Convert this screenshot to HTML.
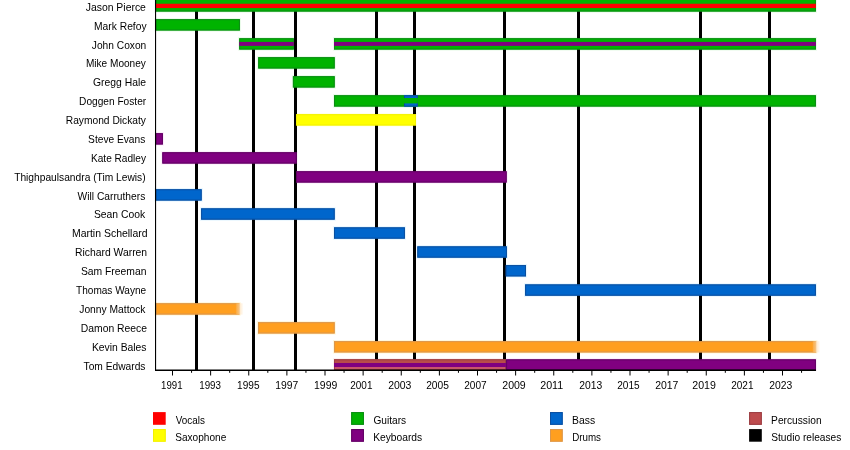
<!DOCTYPE html><html><head><meta charset="utf-8"><style>html,body{margin:0;padding:0;background:#fff;}svg{display:block;}text{will-change:transform;font-family:"Liberation Sans",Arial,sans-serif;font-size:11px;fill:#000;}</style></head><body>
<svg width="850" height="450" viewBox="0 0 850 450">
<rect width="850" height="450" fill="#fff"/>
<rect x="155.00" y="-0.50" width="661.40" height="12.55" fill="none" stroke="#EAFBEA" stroke-width="1.2"/>
<rect x="155.00" y="18.70" width="85.40" height="12.30" fill="none" stroke="#EAFBEA" stroke-width="1.2"/>
<rect x="238.70" y="37.75" width="55.60" height="12.30" fill="none" stroke="#EAFBEA" stroke-width="1.2"/>
<rect x="333.50" y="37.75" width="482.90" height="12.30" fill="none" stroke="#EAFBEA" stroke-width="1.2"/>
<rect x="257.70" y="56.70" width="77.50" height="12.30" fill="none" stroke="#EAFBEA" stroke-width="1.2"/>
<rect x="292.40" y="75.70" width="42.80" height="12.30" fill="none" stroke="#EAFBEA" stroke-width="1.2"/>
<rect x="333.50" y="94.75" width="482.90" height="12.30" fill="none" stroke="#EAFBEA" stroke-width="1.2"/>
<rect x="403.50" y="94.75" width="14.80" height="12.30" fill="none" stroke="#E6F6FF" stroke-width="1.2"/>
<rect x="295.50" y="113.70" width="121.00" height="12.30" fill="none" stroke="#FFFFE6" stroke-width="1.2"/>
<rect x="155.00" y="132.70" width="8.40" height="12.30" fill="none" stroke="#FBEEFB" stroke-width="1.2"/>
<rect x="161.80" y="151.75" width="135.40" height="12.30" fill="none" stroke="#FBEEFB" stroke-width="1.2"/>
<rect x="295.50" y="170.75" width="211.70" height="12.30" fill="none" stroke="#FBEEFB" stroke-width="1.2"/>
<rect x="155.00" y="188.75" width="47.20" height="12.30" fill="none" stroke="#E6F6FF" stroke-width="1.2"/>
<rect x="200.60" y="207.85" width="134.60" height="12.30" fill="none" stroke="#E6F6FF" stroke-width="1.2"/>
<rect x="333.50" y="226.85" width="71.90" height="12.30" fill="none" stroke="#E6F6FF" stroke-width="1.2"/>
<rect x="416.80" y="245.85" width="90.60" height="12.30" fill="none" stroke="#E6F6FF" stroke-width="1.2"/>
<rect x="505.20" y="264.60" width="21.30" height="12.30" fill="none" stroke="#E6F6FF" stroke-width="1.2"/>
<rect x="524.60" y="283.90" width="291.80" height="12.30" fill="none" stroke="#E6F6FF" stroke-width="1.2"/>
<rect x="155.00" y="302.75" width="85.10" height="12.30" fill="none" stroke="#FFF8DC" stroke-width="1.2"/>
<rect x="257.50" y="321.70" width="77.70" height="12.30" fill="none" stroke="#FFF8DC" stroke-width="1.2"/>
<rect x="333.50" y="340.65" width="483.30" height="12.30" fill="none" stroke="#FFF8DC" stroke-width="1.2"/>
<rect x="333.50" y="358.85" width="173.10" height="11.65" fill="none" stroke="#FCEFEF" stroke-width="1.2"/>
<rect x="505.60" y="358.85" width="310.80" height="11.65" fill="none" stroke="#FBEEFB" stroke-width="1.2"/>
<rect x="195.00" y="0" width="3" height="370" fill="#000"/>
<rect x="252.00" y="0" width="3" height="370" fill="#000"/>
<rect x="294.00" y="0" width="3" height="370" fill="#000"/>
<rect x="375.00" y="0" width="3" height="370" fill="#000"/>
<rect x="413.00" y="0" width="3" height="370" fill="#000"/>
<rect x="503.00" y="0" width="3" height="370" fill="#000"/>
<rect x="577.00" y="0" width="3" height="370" fill="#000"/>
<rect x="699.00" y="0" width="3" height="370" fill="#000"/>
<rect x="768.00" y="0" width="3" height="370" fill="#000"/>
<rect x="155.5" y="0.00" width="660.40" height="11.55" fill="#00B300"/>
<rect x="156.00" y="-2.50" width="659.40" height="13.55" fill="none" stroke="#0A8A14" stroke-width="1"/>
<rect x="155.5" y="3.75" width="660.40" height="4.30" fill="#FF0000"/>
<rect x="155.5" y="19.20" width="84.40" height="11.30" fill="#00B300"/>
<rect x="156.00" y="19.70" width="83.40" height="10.30" fill="none" stroke="#0A8A14" stroke-width="1"/>
<rect x="239.2" y="38.25" width="54.60" height="11.30" fill="#00B300"/>
<rect x="239.70" y="38.75" width="53.60" height="10.30" fill="none" stroke="#0A8A14" stroke-width="1"/>
<rect x="239.2" y="41.90" width="54.60" height="4.00" fill="#800080"/>
<rect x="334.0" y="38.25" width="481.90" height="11.30" fill="#00B300"/>
<rect x="334.50" y="38.75" width="480.90" height="10.30" fill="none" stroke="#0A8A14" stroke-width="1"/>
<rect x="334.0" y="41.90" width="481.90" height="4.00" fill="#800080"/>
<rect x="258.2" y="57.20" width="76.50" height="11.30" fill="#00B300"/>
<rect x="258.70" y="57.70" width="75.50" height="10.30" fill="none" stroke="#0A8A14" stroke-width="1"/>
<rect x="292.9" y="76.20" width="41.80" height="11.30" fill="#00B300"/>
<rect x="293.40" y="76.70" width="40.80" height="10.30" fill="none" stroke="#0A8A14" stroke-width="1"/>
<rect x="334.0" y="95.25" width="481.90" height="11.30" fill="#00B300"/>
<rect x="334.50" y="95.75" width="480.90" height="10.30" fill="none" stroke="#0A8A14" stroke-width="1"/>
<rect x="404.0" y="95.25" width="13.80" height="11.30" fill="#0066CC"/>
<rect x="404.50" y="95.75" width="12.80" height="10.30" fill="none" stroke="#0A4E9E" stroke-width="1"/>
<rect x="404.0" y="98.0" width="13.80" height="5.4" fill="#00B300"/>
<rect x="296.0" y="114.20" width="120.00" height="11.30" fill="#FFFF00"/>
<rect x="296.50" y="114.70" width="119.00" height="10.30" fill="none" stroke="#F2F000" stroke-width="1"/>
<rect x="155.5" y="133.20" width="7.40" height="11.30" fill="#800080"/>
<rect x="156.00" y="133.70" width="6.40" height="10.30" fill="none" stroke="#600062" stroke-width="1"/>
<rect x="162.3" y="152.25" width="134.40" height="11.30" fill="#800080"/>
<rect x="162.80" y="152.75" width="133.40" height="10.30" fill="none" stroke="#600062" stroke-width="1"/>
<rect x="296.0" y="171.25" width="210.70" height="11.30" fill="#800080"/>
<rect x="296.50" y="171.75" width="209.70" height="10.30" fill="none" stroke="#600062" stroke-width="1"/>
<rect x="155.5" y="189.25" width="46.20" height="11.30" fill="#0066CC"/>
<rect x="156.00" y="189.75" width="45.20" height="10.30" fill="none" stroke="#0A4E9E" stroke-width="1"/>
<rect x="201.1" y="208.35" width="133.60" height="11.30" fill="#0066CC"/>
<rect x="201.60" y="208.85" width="132.60" height="10.30" fill="none" stroke="#0A4E9E" stroke-width="1"/>
<rect x="334.0" y="227.35" width="70.90" height="11.30" fill="#0066CC"/>
<rect x="334.50" y="227.85" width="69.90" height="10.30" fill="none" stroke="#0A4E9E" stroke-width="1"/>
<rect x="417.3" y="246.35" width="89.60" height="11.30" fill="#0066CC"/>
<rect x="417.80" y="246.85" width="88.60" height="10.30" fill="none" stroke="#0A4E9E" stroke-width="1"/>
<rect x="505.7" y="265.10" width="20.30" height="11.30" fill="#0066CC"/>
<rect x="506.20" y="265.60" width="19.30" height="10.30" fill="none" stroke="#0A4E9E" stroke-width="1"/>
<rect x="525.1" y="284.40" width="290.80" height="11.30" fill="#0066CC"/>
<rect x="525.60" y="284.90" width="289.80" height="10.30" fill="none" stroke="#0A4E9E" stroke-width="1"/>
<rect x="155.5" y="303.25" width="84.10" height="11.30" fill="#FF9F1F"/>
<rect x="156.00" y="303.75" width="83.10" height="10.30" fill="none" stroke="#D99650" stroke-width="1"/>
<rect x="258.0" y="322.20" width="76.70" height="11.30" fill="#FF9F1F"/>
<rect x="258.50" y="322.70" width="75.70" height="10.30" fill="none" stroke="#D99650" stroke-width="1"/>
<rect x="334.0" y="341.15" width="482.30" height="11.30" fill="#FF9F1F"/>
<rect x="334.50" y="341.65" width="481.30" height="10.30" fill="none" stroke="#D99650" stroke-width="1"/>
<rect x="334.0" y="359.35" width="172.10" height="10.65" fill="#BE4C4E"/>
<rect x="334.0" y="367.00" width="172.10" height="3.00" fill="#C8566A"/>
<rect x="334.0" y="359.35" width="172.10" height="3.65" fill="#B84C4A"/>
<rect x="334.50" y="359.85" width="171.10" height="9.65" fill="none" stroke="#9A3E44" stroke-width="1"/>
<rect x="334.0" y="363.00" width="172.10" height="4.00" fill="#800080"/>
<rect x="506.1" y="359.35" width="309.80" height="10.65" fill="#800080"/>
<rect x="506.60" y="359.85" width="308.80" height="9.65" fill="none" stroke="#600062" stroke-width="1"/>
<defs><linearGradient id="of" x1="0" x2="1" y1="0" y2="0"><stop offset="0" stop-color="#FF9F1F" stop-opacity="0"/><stop offset="0.35" stop-color="#F8B55C" stop-opacity="0.8"/><stop offset="1" stop-color="#F6C78A" stop-opacity="1"/></linearGradient><linearGradient id="oh" x1="0" x2="1" y1="0" y2="0"><stop offset="0" stop-color="#FFE8C8"/><stop offset="1" stop-color="#FFFFFF"/></linearGradient></defs>
<rect x="235.10" y="303.25" width="4.5" height="11.30" fill="url(#of)"/>
<rect x="239.60" y="303.25" width="4" height="11.30" fill="url(#oh)"/>
<rect x="811.80" y="341.15" width="4.5" height="11.30" fill="url(#of)"/>
<rect x="816.30" y="341.15" width="4" height="11.30" fill="url(#oh)"/>
<rect x="155" y="0" width="1.1" height="370.6" fill="#000"/>
<rect x="155" y="369.5" width="661" height="1.5" fill="#000"/>
<rect x="172.00" y="370" width="1" height="5.5" fill="#000"/>
<text x="171.84" y="388.80" text-anchor="middle" textLength="21.49" lengthAdjust="spacingAndGlyphs">1991</text>
<rect x="191.06" y="370" width="1" height="2.8" fill="#000"/>
<rect x="210.12" y="370" width="1" height="5.5" fill="#000"/>
<text x="210.09" y="388.80" text-anchor="middle" textLength="21.83" lengthAdjust="spacingAndGlyphs">1993</text>
<rect x="229.19" y="370" width="1" height="2.8" fill="#000"/>
<rect x="248.25" y="370" width="1" height="5.5" fill="#000"/>
<text x="248.30" y="388.80" text-anchor="middle" textLength="22.44" lengthAdjust="spacingAndGlyphs">1995</text>
<rect x="267.31" y="370" width="1" height="2.8" fill="#000"/>
<rect x="286.38" y="370" width="1" height="5.5" fill="#000"/>
<text x="286.68" y="388.80" text-anchor="middle" textLength="23.05" lengthAdjust="spacingAndGlyphs">1997</text>
<rect x="305.44" y="370" width="1" height="2.8" fill="#000"/>
<rect x="324.50" y="370" width="1" height="5.5" fill="#000"/>
<text x="325.68" y="388.80" text-anchor="middle" textLength="23.24" lengthAdjust="spacingAndGlyphs">1999</text>
<rect x="343.56" y="370" width="1" height="2.8" fill="#000"/>
<rect x="362.62" y="370" width="1" height="5.5" fill="#000"/>
<text x="361.36" y="388.80" text-anchor="middle" textLength="22.24" lengthAdjust="spacingAndGlyphs">2001</text>
<rect x="381.69" y="370" width="1" height="2.8" fill="#000"/>
<rect x="400.75" y="370" width="1" height="5.5" fill="#000"/>
<text x="399.80" y="388.80" text-anchor="middle" textLength="23.28" lengthAdjust="spacingAndGlyphs">2003</text>
<rect x="419.81" y="370" width="1" height="2.8" fill="#000"/>
<rect x="438.88" y="370" width="1" height="5.5" fill="#000"/>
<text x="437.54" y="388.80" text-anchor="middle" textLength="22.74" lengthAdjust="spacingAndGlyphs">2005</text>
<rect x="457.94" y="370" width="1" height="2.8" fill="#000"/>
<rect x="477.00" y="370" width="1" height="5.5" fill="#000"/>
<text x="475.44" y="388.80" text-anchor="middle" textLength="22.46" lengthAdjust="spacingAndGlyphs">2007</text>
<rect x="496.06" y="370" width="1" height="2.8" fill="#000"/>
<rect x="515.12" y="370" width="1" height="5.5" fill="#000"/>
<text x="514.02" y="388.80" text-anchor="middle" textLength="23.49" lengthAdjust="spacingAndGlyphs">2009</text>
<rect x="534.19" y="370" width="1" height="2.8" fill="#000"/>
<rect x="553.25" y="370" width="1" height="5.5" fill="#000"/>
<text x="551.71" y="388.80" text-anchor="middle" textLength="23.00" lengthAdjust="spacingAndGlyphs">2011</text>
<rect x="572.31" y="370" width="1" height="2.8" fill="#000"/>
<rect x="591.38" y="370" width="1" height="5.5" fill="#000"/>
<text x="590.73" y="388.80" text-anchor="middle" textLength="22.99" lengthAdjust="spacingAndGlyphs">2013</text>
<rect x="610.44" y="370" width="1" height="2.8" fill="#000"/>
<rect x="629.50" y="370" width="1" height="5.5" fill="#000"/>
<text x="628.46" y="388.80" text-anchor="middle" textLength="22.42" lengthAdjust="spacingAndGlyphs">2015</text>
<rect x="648.56" y="370" width="1" height="2.8" fill="#000"/>
<rect x="667.62" y="370" width="1" height="5.5" fill="#000"/>
<text x="666.82" y="388.80" text-anchor="middle" textLength="23.28" lengthAdjust="spacingAndGlyphs">2017</text>
<rect x="686.69" y="370" width="1" height="2.8" fill="#000"/>
<rect x="705.75" y="370" width="1" height="5.5" fill="#000"/>
<text x="704.09" y="388.80" text-anchor="middle" textLength="23.60" lengthAdjust="spacingAndGlyphs">2019</text>
<rect x="724.81" y="370" width="1" height="2.8" fill="#000"/>
<rect x="743.88" y="370" width="1" height="5.5" fill="#000"/>
<text x="742.36" y="388.80" text-anchor="middle" textLength="22.31" lengthAdjust="spacingAndGlyphs">2021</text>
<rect x="762.94" y="370" width="1" height="2.8" fill="#000"/>
<rect x="782.00" y="370" width="1" height="5.5" fill="#000"/>
<text x="780.69" y="388.80" text-anchor="middle" textLength="23.04" lengthAdjust="spacingAndGlyphs">2023</text>
<rect x="801.06" y="370" width="1" height="2.8" fill="#000"/>
<text x="145.89" y="10.80" text-anchor="end" textLength="60.18" lengthAdjust="spacingAndGlyphs">Jason Pierce</text>
<text x="146.57" y="29.68" text-anchor="end" textLength="52.52" lengthAdjust="spacingAndGlyphs">Mark Refoy</text>
<text x="146.27" y="48.56" text-anchor="end" textLength="54.44" lengthAdjust="spacingAndGlyphs">John Coxon</text>
<text x="145.83" y="67.44" text-anchor="end" textLength="59.86" lengthAdjust="spacingAndGlyphs">Mike Mooney</text>
<text x="146.15" y="86.32" text-anchor="end" textLength="53.09" lengthAdjust="spacingAndGlyphs">Gregg Hale</text>
<text x="146.15" y="105.20" text-anchor="end" textLength="67.07" lengthAdjust="spacingAndGlyphs">Doggen Foster</text>
<text x="145.92" y="124.08" text-anchor="end" textLength="80.12" lengthAdjust="spacingAndGlyphs">Raymond Dickaty</text>
<text x="145.30" y="142.96" text-anchor="end" textLength="57.18" lengthAdjust="spacingAndGlyphs">Steve Evans</text>
<text x="146.00" y="161.84" text-anchor="end" textLength="55.00" lengthAdjust="spacingAndGlyphs">Kate Radley</text>
<text x="145.65" y="180.72" text-anchor="end" textLength="131.50" lengthAdjust="spacingAndGlyphs">Thighpaulsandra (Tim Lewis)</text>
<text x="145.29" y="199.60" text-anchor="end" textLength="67.71" lengthAdjust="spacingAndGlyphs">Will Carruthers</text>
<text x="145.19" y="218.48" text-anchor="end" textLength="51.27" lengthAdjust="spacingAndGlyphs">Sean Cook</text>
<text x="147.58" y="237.36" text-anchor="end" textLength="75.63" lengthAdjust="spacingAndGlyphs">Martin Schellard</text>
<text x="147.15" y="256.24" text-anchor="end" textLength="72.17" lengthAdjust="spacingAndGlyphs">Richard Warren</text>
<text x="146.42" y="275.12" text-anchor="end" textLength="65.53" lengthAdjust="spacingAndGlyphs">Sam Freeman</text>
<text x="146.14" y="294.00" text-anchor="end" textLength="70.07" lengthAdjust="spacingAndGlyphs">Thomas Wayne</text>
<text x="145.50" y="312.88" text-anchor="end" textLength="66.24" lengthAdjust="spacingAndGlyphs">Jonny Mattock</text>
<text x="147.06" y="331.76" text-anchor="end" textLength="66.20" lengthAdjust="spacingAndGlyphs">Damon Reece</text>
<text x="146.56" y="350.64" text-anchor="end" textLength="54.67" lengthAdjust="spacingAndGlyphs">Kevin Bales</text>
<text x="145.48" y="369.52" text-anchor="end" textLength="61.93" lengthAdjust="spacingAndGlyphs">Tom Edwards</text>
<rect x="153" y="412.1" width="12.7" height="12.7" fill="#FF0000"/>
<rect x="153" y="429.1" width="12.7" height="12.6" fill="#FFFF00"/>
<rect x="153.50" y="429.60" width="11.7" height="11.60" fill="none" stroke="#F2F000" stroke-width="1"/>
<text x="175.75" y="423.80" textLength="29.20" lengthAdjust="spacingAndGlyphs">Vocals</text>
<text x="175.15" y="440.80" textLength="51.12" lengthAdjust="spacingAndGlyphs">Saxophone</text>
<rect x="351.2" y="412.1" width="12.7" height="12.7" fill="#00B300"/>
<rect x="351.2" y="429.1" width="12.7" height="12.6" fill="#800080"/>
<rect x="351.70" y="412.60" width="11.7" height="11.70" fill="none" stroke="#0A8A14" stroke-width="1"/>
<rect x="351.70" y="429.60" width="11.7" height="11.60" fill="none" stroke="#600062" stroke-width="1"/>
<text x="373.38" y="423.80" textLength="32.72" lengthAdjust="spacingAndGlyphs">Guitars</text>
<text x="373.15" y="440.80" textLength="49.07" lengthAdjust="spacingAndGlyphs">Keyboards</text>
<rect x="550" y="412.1" width="12.7" height="12.7" fill="#0066CC"/>
<rect x="550" y="429.1" width="12.7" height="12.6" fill="#FF9F1F"/>
<rect x="550.50" y="412.60" width="11.7" height="11.70" fill="none" stroke="#0A4E9E" stroke-width="1"/>
<rect x="550.50" y="429.60" width="11.7" height="11.60" fill="none" stroke="#D99650" stroke-width="1"/>
<text x="572.11" y="423.80" textLength="23.08" lengthAdjust="spacingAndGlyphs">Bass</text>
<text x="572.21" y="440.80" textLength="28.77" lengthAdjust="spacingAndGlyphs">Drums</text>
<rect x="749.1" y="412.1" width="12.7" height="12.7" fill="#BE4C4E"/>
<rect x="749.1" y="429.1" width="12.7" height="12.6" fill="#000"/>
<rect x="749.60" y="412.60" width="11.7" height="11.70" fill="none" stroke="#9A3E44" stroke-width="1"/>
<text x="771.11" y="423.80" textLength="50.47" lengthAdjust="spacingAndGlyphs">Percussion</text>
<text x="771.25" y="440.80" textLength="70.07" lengthAdjust="spacingAndGlyphs">Studio releases</text>
</svg></body></html>
